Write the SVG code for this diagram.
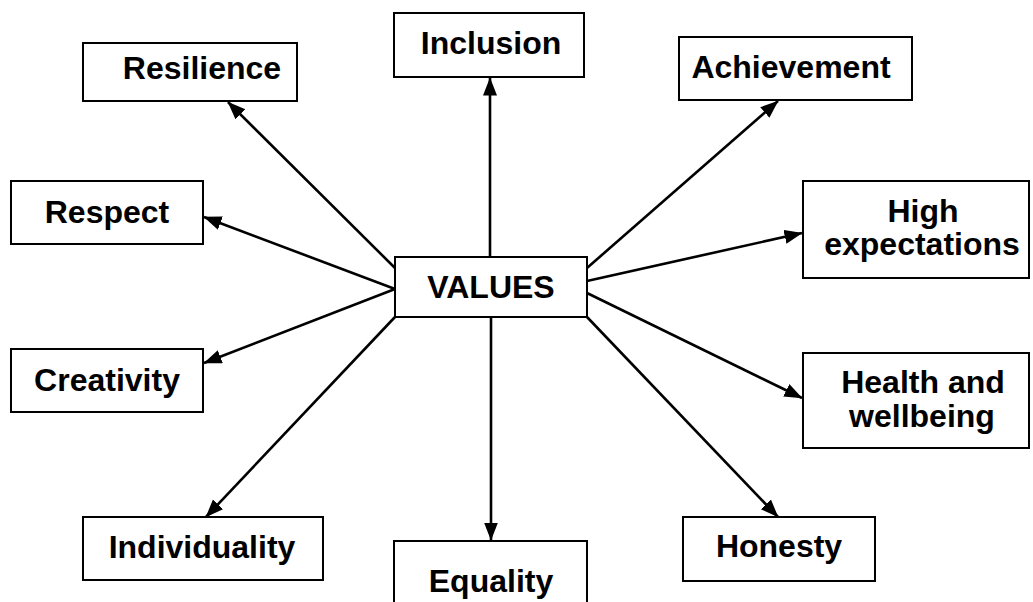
<svg xmlns="http://www.w3.org/2000/svg" width="1033" height="602" viewBox="0 0 1033 602">
<style>
.box{fill:#fff;stroke:#000;stroke-width:2}
.t{font-family:"Liberation Sans",Arial,sans-serif;font-weight:bold;font-size:32px;fill:#000;text-anchor:middle}
.c{stroke:#000;stroke-width:2.6;fill:none;marker-end:url(#ah)}
</style>
<defs>
<marker id="ah" markerUnits="userSpaceOnUse" markerWidth="19" markerHeight="15" refX="17.5" refY="7" orient="auto">
<path d="M0,0 L18,7 L0,14 z" fill="#000"/>
</marker>
</defs>
<rect width="1033" height="602" fill="#fff"/>
<g id="connectors">
<line class="c" x1="490" y1="257" x2="490" y2="78"/>
<line class="c" x1="491" y1="317" x2="491" y2="540"/>
<line class="c" x1="587" y1="268" x2="778" y2="101"/>
<line class="c" x1="587" y1="281" x2="802" y2="233"/>
<line class="c" x1="587" y1="293" x2="802" y2="398"/>
<line class="c" x1="587" y1="317" x2="778" y2="517"/>
<line class="c" x1="395" y1="268" x2="228" y2="102"/>
<line class="c" x1="395" y1="289" x2="204" y2="217"/>
<line class="c" x1="395" y1="289" x2="204" y2="363"/>
<line class="c" x1="395" y1="317" x2="206" y2="517"/>
</g>
<g id="values">
<rect class="box" x="395" y="257" width="192" height="60"/>
<text class="t" x="491" y="298">VALUES</text>
</g>
<g id="inclusion">
<rect class="box" x="394" y="13" width="190" height="64"/>
<text class="t" x="491" y="54">Inclusion</text>
</g>
<g id="resilience">
<rect class="box" x="83" y="43" width="214" height="58"/>
<text class="t" x="202" y="79">Resilience</text>
</g>
<g id="achievement">
<rect class="box" x="679" y="37" width="233" height="63"/>
<text class="t" x="791" y="78">Achievement</text>
</g>
<g id="respect">
<rect class="box" x="11" y="181" width="192" height="63"/>
<text class="t" x="107" y="223">Respect</text>
</g>
<g id="high-expectations">
<rect class="box" x="803" y="181" width="226" height="97"/>
<text class="t" x="923" y="222">High</text>
<text class="t" x="922" y="255">expectations</text>
</g>
<g id="creativity">
<rect class="box" x="11" y="349" width="192" height="63"/>
<text class="t" x="107" y="391">Creativity</text>
</g>
<g id="health-and-wellbeing">
<rect class="box" x="803" y="353" width="226" height="95"/>
<text class="t" x="923" y="393">Health and</text>
<text class="t" x="922" y="427">wellbeing</text>
</g>
<g id="individuality">
<rect class="box" x="83" y="517" width="240" height="63"/>
<text class="t" x="202" y="558">Individuality</text>
</g>
<g id="equality">
<rect class="box" x="394" y="541" width="193" height="70"/>
<text class="t" x="491" y="592">Equality</text>
</g>
<g id="honesty">
<rect class="box" x="683" y="517" width="192" height="64"/>
<text class="t" x="779" y="557">Honesty</text>
</g>
</svg>
